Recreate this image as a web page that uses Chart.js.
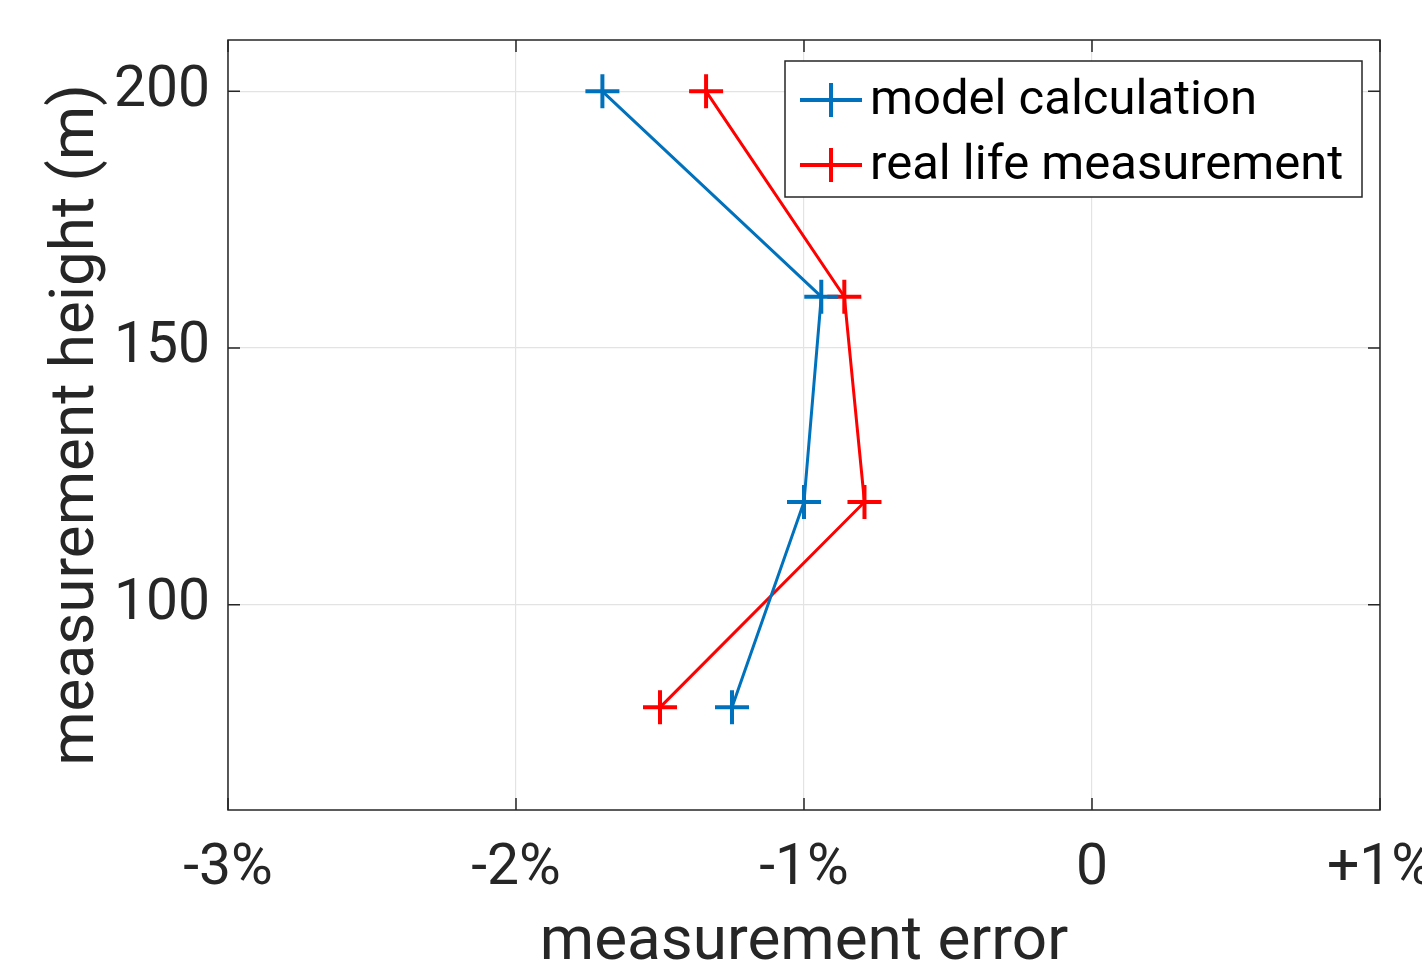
<!DOCTYPE html>
<html>
<head>
<meta charset="utf-8">
<script src="https://cdn.jsdelivr.net/npm/chart.js@4.4.1/dist/chart.umd.min.js"></script>
<style>
    html, body { margin: 0; padding: 0; background: #fff; overflow: hidden; }
    #wrap { width: 1422px; height: 976px; }
</style>
</head>
<body>
<div id="wrap"><canvas id="chart"></canvas></div>
<script>
// heights (m) and errors (%)
const heights = [200, 160, 120, 80];
const modelError = [-1.7, -0.94, -1.0, -1.25];
const realError = [-1.34, -0.86, -0.79, -1.5];
const xTicks = [-3, -2, -1, 0, 1];
const xTickLabels = ["-3%", "-2%", "-1%", "0", "+1%"];
const yTicks = [100, 150, 200];

const blue = "#0072bd";
const red = "#ff0000";
const axisColor = "#262626";
const fontName = "Roboto, 'Liberation Sans', Arial, sans-serif";

function toPoints(xs) {
    return xs.map((x, i) => ({ x: x, y: heights[i] }));
}

// MATLAB style box with inward ticks, plus legend inside the axes
const boxPlugin = {
    id: "box",
    afterDraw(chart) {
        const ctx = chart.ctx;
        const a = chart.chartArea;
        const xs = chart.scales.x;
        const ys = chart.scales.y;
        const tl = 12;
        ctx.save();
        ctx.strokeStyle = axisColor;
        ctx.lineWidth = 1.5;
        ctx.strokeRect(a.left, a.top, a.right - a.left, a.bottom - a.top);
        ctx.beginPath();
        xTicks.forEach(v => {
            const px = xs.getPixelForValue(v);
            ctx.moveTo(px, a.bottom); ctx.lineTo(px, a.bottom - tl);
            ctx.moveTo(px, a.top); ctx.lineTo(px, a.top + tl);
        });
        yTicks.forEach(v => {
            const py = ys.getPixelForValue(v);
            ctx.moveTo(a.left, py); ctx.lineTo(a.left + tl, py);
            ctx.moveTo(a.right, py); ctx.lineTo(a.right - tl, py);
        });
        ctx.stroke();

        // legend
        const bw = 577, bh = 136;
        const bx = a.right - 18 - bw, by = a.top + 21;
        ctx.fillStyle = "#fff";
        ctx.fillRect(bx, by, bw, bh);
        ctx.lineWidth = 1.5;
        ctx.strokeRect(bx, by, bw, bh);
        ctx.font = "49px " + fontName;
        ctx.textBaseline = "middle";
        chart.data.datasets.forEach((ds, i) => {
            const cy = by + 39 + i * 65;
            ctx.strokeStyle = ds.borderColor;
            ctx.lineWidth = 4;
            ctx.beginPath();
            ctx.moveTo(bx + 15, cy); ctx.lineTo(bx + 77, cy);
            ctx.moveTo(bx + 46, cy - 17); ctx.lineTo(bx + 46, cy + 17);
            ctx.stroke();
            ctx.fillStyle = "#000";
            ctx.fillText(ds.label, bx + 85, cy + 2);
        });
        ctx.restore();
    }
};

new Chart(document.getElementById("chart"), {
    type: "scatter",
    data: {
        datasets: [
            {
                label: "model calculation",
                data: toPoints(modelError),
                showLine: true,
                borderColor: blue,
                backgroundColor: blue,
                borderWidth: 3,
                pointStyle: "cross",
                pointRadius: 17,
                pointBorderWidth: 4
            },
            {
                label: "real life measurement",
                data: toPoints(realError),
                showLine: true,
                borderColor: red,
                backgroundColor: red,
                borderWidth: 3,
                pointStyle: "cross",
                pointRadius: 17,
                pointBorderWidth: 4
            }
        ]
    },
    options: {
        responsive: true,
        maintainAspectRatio: false,
        animation: false,
        layout: {
            padding: { top: 40, right: 42, left: 0, bottom: 0 }
        },
        plugins: {
            legend: { display: false },
            tooltip: { enabled: false }
        },
        scales: {
            x: {
                type: "linear",
                min: -3,
                max: 1,
                afterBuildTicks: axis => { axis.ticks = xTicks.map(v => ({ value: v })); },
                afterFit: axis => {
                    axis.height = 166;
                    axis.paddingLeft = 0;
                    axis.paddingRight = 0;
                },
                grid: { color: "#e3e3e3", lineWidth: 1.2, drawTicks: false },
                border: { display: false },
                ticks: {
                    color: axisColor,
                    font: { family: fontName, size: 57 },
                    padding: 26,
                    maxRotation: 0,
                    autoSkip: false,
                    callback: (v) => xTickLabels[xTicks.indexOf(v)]
                },
                title: {
                    display: true,
                    text: "measurement error",
                    color: axisColor,
                    font: { family: fontName, size: 62 },
                    padding: { top: 0, bottom: -5 }
                }
            },
            y: {
                type: "linear",
                min: 60,
                max: 210,
                afterBuildTicks: axis => { axis.ticks = yTicks.map(v => ({ value: v })); },
                afterFit: axis => {
                    axis.width = 228;
                    axis.paddingTop = 0;
                    axis.paddingBottom = 0;
                },
                grid: { color: "#e3e3e3", lineWidth: 1.2, drawTicks: false },
                border: { display: false },
                ticks: {
                    color: axisColor,
                    font: { family: fontName, size: 57 },
                    padding: 18,
                    autoSkip: false
                },
                title: {
                    display: true,
                    text: "measurement height (m)",
                    color: axisColor,
                    font: { family: fontName, size: 62 },
                    padding: { top: 40, bottom: 0 }
                }
            }
        }
    },
    plugins: [boxPlugin]
});
</script>
</body>
</html>
